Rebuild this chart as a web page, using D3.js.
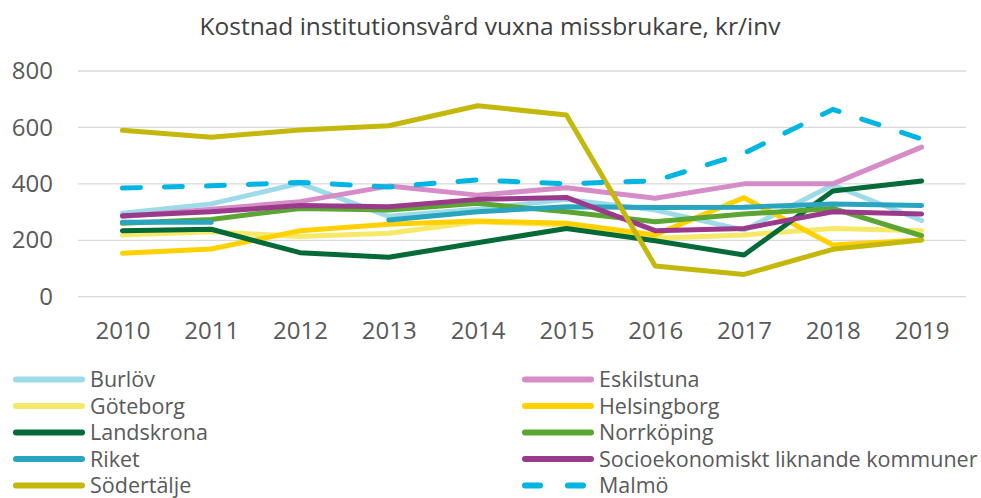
<!DOCTYPE html>
<html>
<head>
<meta charset="utf-8">
<script src="https://cdn.jsdelivr.net/npm/d3@7"></script>
<style>
  body { margin: 0; background: #fff; }
  text { font-family: "Open Sans", sans-serif; fill: #595959; }
</style>
</head>
<body>
<svg id="chart" width="981" height="498"></svg>
<script>
const years = ["2010", "2011", "2012", "2013", "2014", "2015", "2016", "2017", "2018", "2019"];
const yTicks = [0, 200, 400, 600, 800];

const burlov      = [296, 329, 402, 285, 310, 345, 307, 236, 396, 270];
const eskilstuna  = [284, 310, 337, 392, 360, 386, 349, 400, 400, 530];
const goteborg    = [219, 230, 213, 225, 266, 254, 207, 219, 242, 234];
const helsingborg = [154, 169, 234, 257, 268, 260, 219, 351, 183, 201];
const landskrona  = [234, 239, 156, 140, 191, 242, 198, 148, 375, 410];
const norrkoping  = [260, 274, 313, 307, 331, 301, 266, 293, 313, 216];
const riket       = [264, 264, null, 272, 301, 319, 316, 317, 329, 323];
const socio       = [287, 301, 323, 319, 345, 352, 234, 242, 301, 293];
const sodertalje  = [590, 565, 591, 606, 677, 644, 109, 79, 168, 201];
const malmo       = [385, 393, 405, 389, 414, 400, 411, 508, 664, 559];

const series = [
  { name: "Burlöv", values: burlov, color: "#9ddbe8" },
  { name: "Eskilstuna", values: eskilstuna, color: "#d68dc7" },
  { name: "Göteborg", values: goteborg, color: "#f6e968" },
  { name: "Helsingborg", values: helsingborg, color: "#ffd100" },
  { name: "Landskrona", values: landskrona, color: "#046a38" },
  { name: "Norrköping", values: norrkoping, color: "#5ba533" },
  { name: "Riket", values: riket, color: "#2aa5c0" },
  { name: "Socioekonomiskt liknande kommuner", values: socio, color: "#9a3a8b" },
  { name: "Södertälje", values: sodertalje, color: "#c4b80c" },
  { name: "Malmö", values: malmo, color: "#00b5e2", dash: true }
];

const svg = d3.select("#chart");
const plotLeft = 78, plotRight = 966, plotTop = 71, plotBottom = 296.7;

const x = d3.scalePoint().domain(years).range([plotLeft, plotRight]).padding(0.5);
const y = d3.scaleLinear().domain([0, 800]).range([plotBottom, plotTop]);

svg.append("text")
  .attr("x", 490).attr("y", 35)
  .attr("text-anchor", "middle")
  .style("font-size", "24.5px")
  .style("fill", "#404040")
  .text("Kostnad institutionsvård vuxna missbrukare, kr/inv");

// grid
svg.append("g")
  .selectAll("line")
  .data(yTicks)
  .join("line")
  .attr("x1", plotLeft).attr("x2", plotRight)
  .attr("y1", d => y(d)).attr("y2", d => y(d))
  .attr("stroke", "#d9d9d9").attr("stroke-width", 1.3);

const yAxis = svg.append("g")
  .attr("transform", `translate(${plotLeft - 25},0)`)
  .call(d3.axisLeft(y).tickValues(yTicks).tickSize(0).tickPadding(0));
yAxis.select(".domain").remove();
yAxis.selectAll("text").style("font-size", "24px");

const xAxis = svg.append("g")
  .attr("transform", `translate(0,${plotBottom + 18})`)
  .call(d3.axisBottom(x).tickSize(0).tickPadding(7));
xAxis.select(".domain").remove();
xAxis.selectAll("text").style("font-size", "24px");

const line = d3.line()
  .defined(d => d.v != null)
  .x(d => x(d.year))
  .y(d => y(d.v));

svg.append("g")
  .selectAll("path")
  .data(series)
  .join("path")
  .attr("d", s => line(s.values.map((v, i) => ({ year: years[i], v }))))
  .attr("fill", "none")
  .attr("stroke", s => s.color)
  .attr("stroke-width", 5)
  .attr("stroke-linecap", "round")
  .attr("stroke-linejoin", "round")
  .attr("stroke-dasharray", s => s.dash ? "18,24" : null);

// legend (last row nudged up a bit so descenders stay inside)
const legend = svg.append("g")
  .selectAll("g")
  .data(series)
  .join("g")
  .attr("transform", (s, i) => `translate(${i % 2 === 0 ? 16 : 525},${379.5 + Math.floor(i / 2) * 26.5})`);

legend.append("line")
  .attr("x1", 0).attr("x2", 66)
  .attr("stroke", s => s.color)
  .attr("stroke-width", 6)
  .attr("stroke-linecap", "round")
  .attr("stroke-dasharray", s => s.dash ? "15,28" : null);

legend.append("text")
  .attr("x", 74).attr("y", 7.5)
  .style("font-size", "21.5px")
  .text(s => s.name);
</script>
</body>
</html>
